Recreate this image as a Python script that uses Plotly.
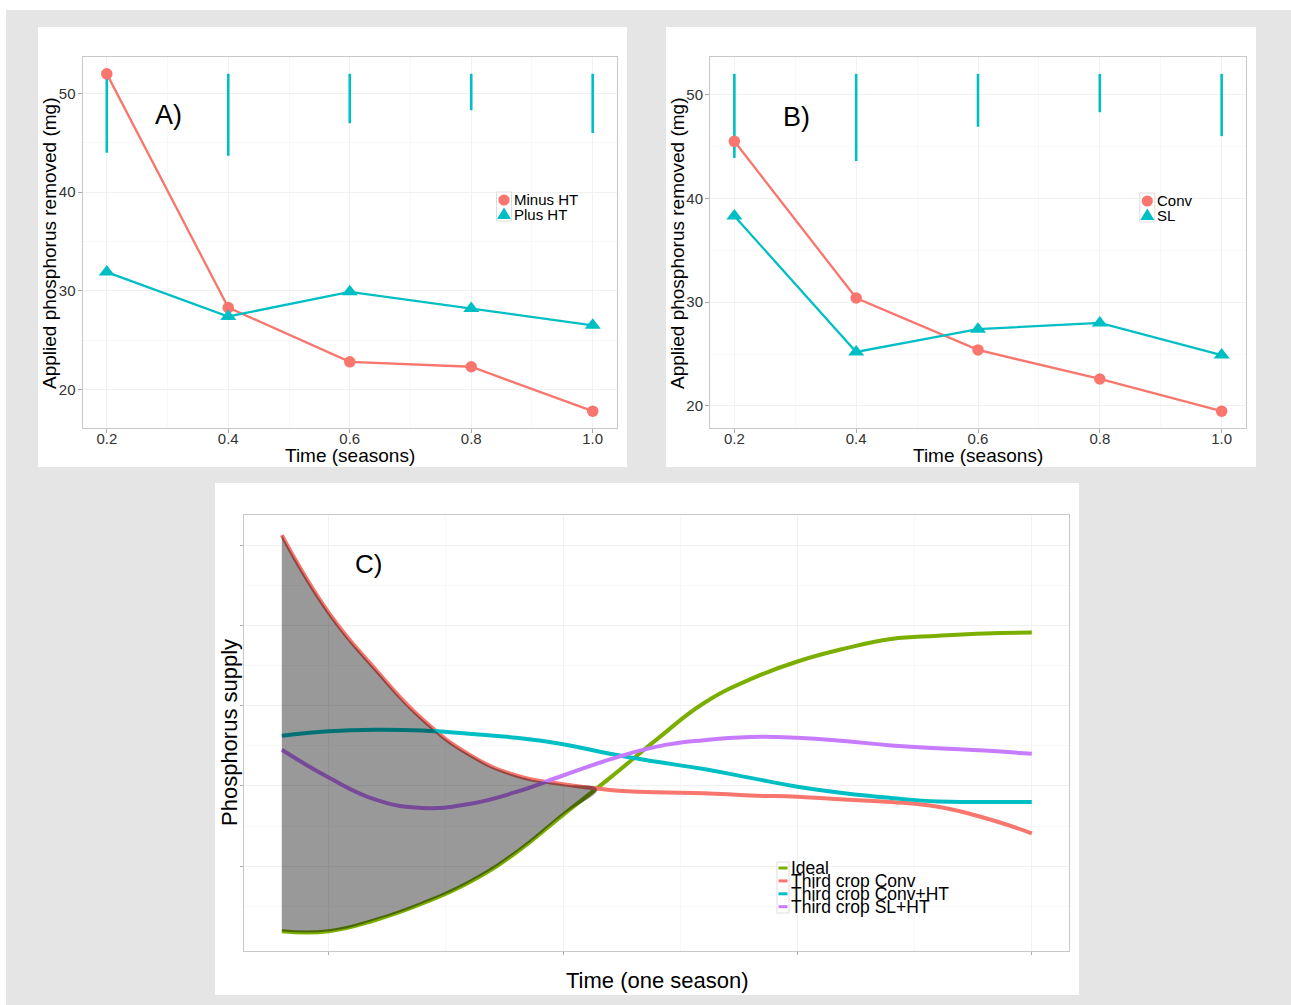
import plotly.graph_objects as go

W, H = 1291, 1005

# ---- Panels A and B: phosphorus removed over the season ----
seasons = [0.2, 0.4, 0.6, 0.8, 1.0]
season_labels = ["0.2", "0.4", "0.6", "0.8", "1.0"]
mg_ticks = [20, 30, 40, 50]

minus_ht = [52.0, 28.3, 22.8, 22.3, 17.8]
plus_ht = [31.9, 27.4, 29.9, 28.2, 26.5]
bar_top_a = [52.0, 52.0, 52.0, 52.0, 52.0]
bar_bottom_a = [44.0, 43.7, 47.0, 48.3, 46.0]

conv = [45.5, 30.4, 25.4, 22.6, 19.5]
sl = [38.3, 25.2, 27.4, 28.0, 24.9]
bar_top_b = [52.0, 52.0, 52.0, 52.0, 52.0]
bar_bottom_b = [43.9, 43.6, 46.9, 48.3, 46.0]

# ---- Panel C: phosphorus supply within one season ----
time_c = [0.20, 0.25, 0.30, 0.35, 0.40, 0.45, 0.50, 0.55, 0.60,
          0.65, 0.70, 0.75, 0.80, 0.85, 0.90, 0.95, 1.00]
ideal_y = [11.9, 11.9, 13.3, 15.35, 18.0, 21.7, 26.4, 31.0, 35.8,
           40.3, 43.3, 45.5, 47.1, 48.3, 48.7, 49.0, 49.1]
conv3_y = [61.25, 51.6, 44.5, 38.3, 33.9, 31.3, 30.2, 29.5, 29.2,
           29.1, 28.8, 28.65, 28.3, 28.0, 27.4, 26.0, 24.1]
convht_y = [36.25, 36.8, 37.0, 36.9, 36.5, 36.0, 35.2, 34.0, 33.0,
            32.1, 31.0, 29.9, 29.1, 28.5, 28.05, 28.0, 28.0]
slht_y = [34.5, 31.05, 28.3, 27.25, 27.75, 29.25, 31.3, 33.3, 34.9,
          35.7, 36.1, 36.0, 35.6, 35.05, 34.7, 34.4, 34.0]
# point where the Conv curve drops below the ideal curve
meet_x, meet_y = 0.536, 29.6

supply_ticks = [20, 30, 40, 50, 60]
supply_minor = [15, 25, 35, 45, 55]
time_ticks = [0.25, 0.5, 0.75, 1.0]
time_minor = [0.375, 0.625, 0.875]

# ggplot-like colours
RED, CYAN, GREEN, PURPLE = "#F8766D", "#00BFC4", "#7CAE00", "#C77CFF"
FONT = "Liberation Sans, Arial, sans-serif"
SMOOTH = 1.3


def px(x):
    return x / W


def py(y):
    return 1 - y / H


def expand(lo, hi, f=0.05):
    d = (hi - lo) * f
    return [lo - d, hi + d]


def segments(xs, tops, bottoms):
    sx, sy = [], []
    for x, t, b in zip(xs, tops, bottoms):
        sx += [x, x, None]
        sy += [t, b, None]
    return sx, sy


fig = go.Figure()

# Panel A
bx, by = segments(seasons, bar_top_a, bar_bottom_a)
fig.add_trace(go.Scatter(x=bx, y=by, mode="lines", line=dict(color=CYAN, width=2.6),
                         xaxis="x", yaxis="y", showlegend=False, hoverinfo="skip"))
fig.add_trace(go.Scatter(x=seasons, y=minus_ht, mode="lines+markers", name="Minus HT",
                         line=dict(color=RED, width=2.3),
                         marker=dict(symbol="circle", size=11.5, color=RED),
                         xaxis="x", yaxis="y", showlegend=False))
fig.add_trace(go.Scatter(x=seasons, y=plus_ht, mode="lines+markers", name="Plus HT",
                         line=dict(color=CYAN, width=2.3),
                         marker=dict(symbol="triangle-up", size=14, color=CYAN),
                         xaxis="x", yaxis="y", showlegend=False))

# Panel B
bx, by = segments(seasons, bar_top_b, bar_bottom_b)
fig.add_trace(go.Scatter(x=bx, y=by, mode="lines", line=dict(color=CYAN, width=2.6),
                         xaxis="x2", yaxis="y2", showlegend=False, hoverinfo="skip"))
fig.add_trace(go.Scatter(x=seasons, y=conv, mode="lines+markers", name="Conv",
                         line=dict(color=RED, width=2.3),
                         marker=dict(symbol="circle", size=11.5, color=RED),
                         xaxis="x2", yaxis="y2", showlegend=False))
fig.add_trace(go.Scatter(x=seasons, y=sl, mode="lines+markers", name="SL",
                         line=dict(color=CYAN, width=2.3),
                         marker=dict(symbol="triangle-up", size=14, color=CYAN),
                         xaxis="x2", yaxis="y2", showlegend=False))

# Panel C curves
for name, ys, col in [("Ideal", ideal_y, GREEN),
                      ("Third crop Conv", conv3_y, RED),
                      ("Third crop Conv+HT", convht_y, CYAN),
                      ("Third crop SL+HT", slht_y, PURPLE)]:
    fig.add_trace(go.Scatter(x=time_c, y=ys, mode="lines", name=name,
                             line=dict(color=col, width=4, shape="spline", smoothing=SMOOTH),
                             xaxis="x3", yaxis="y3", showlegend=False))

# shaded gap between the Conv curve and the ideal curve, up to where they meet
before = [i for i, t in enumerate(time_c) if t < meet_x]
gap_x = [time_c[i] for i in before] + [meet_x] + [time_c[i] for i in reversed(before)]
gap_y = [conv3_y[i] for i in before] + [meet_y] + [ideal_y[i] for i in reversed(before)]
fig.add_trace(go.Scatter(x=gap_x, y=gap_y, mode="lines", fill="toself",
                         fillcolor="rgba(0,0,0,0.4)",
                         line=dict(width=0, shape="spline", smoothing=SMOOTH),
                         xaxis="x3", yaxis="y3", showlegend=False, hoverinfo="skip"))

# ---- axes ----
grid = "#f1f1f1"
mgrid = "#f8f8f8"
border = "#c8c8c8"
tickfont = dict(family=FONT, size=15, color="#333333")


def ab_axes(xdom, ydom, yrange):
    xa = dict(domain=xdom, range=[0.16, 1.04], tickvals=seasons, ticktext=season_labels,
              showline=True, mirror=True, linecolor=border, linewidth=1,
              gridcolor=grid, zeroline=False, ticks="outside", ticklen=4,
              tickcolor="#aaaaaa", tickfont=tickfont, ticklabelstandoff=-7,
              minor=dict(tickvals=[0.3, 0.5, 0.7, 0.9], showgrid=True, gridcolor=mgrid))
    ya = dict(domain=ydom, range=yrange, tickvals=mg_ticks,
              showline=True, mirror=True, linecolor=border, linewidth=1,
              gridcolor=grid, zeroline=False, ticks="outside", ticklen=4,
              tickcolor="#aaaaaa", tickfont=tickfont, ticklabelstandoff=-1,
              minor=dict(tickvals=[15, 25, 35, 45, 55], showgrid=True, gridcolor=mgrid))
    return xa, ya


ydom_ab = [py(428), py(57)]
xa1, ya1 = ab_axes([px(82.5), px(617)], ydom_ab,
                   expand(min(minus_ht + plus_ht + bar_bottom_a), max(minus_ht + plus_ht + bar_top_a)))
xa2, ya2 = ab_axes([px(710), px(1246)], ydom_ab,
                   expand(min(conv + sl + bar_bottom_b), max(conv + sl + bar_top_b)))
ya2["anchor"] = "x2"
xa2["anchor"] = "y2"

all_c = ideal_y + conv3_y + convht_y + slht_y
xa3 = dict(domain=[px(244.3), px(1069.3)], range=expand(min(time_c), max(time_c)), anchor="y3",
           tickvals=time_ticks, showticklabels=False,
           showline=True, mirror=True, linecolor=border, linewidth=1,
           gridcolor=grid, zeroline=False, ticks="outside", ticklen=3, tickcolor="#aaaaaa",
           minor=dict(tickvals=time_minor, showgrid=True, gridcolor=mgrid))
ya3 = dict(domain=[py(951), py(515.3)], range=expand(min(all_c), max(all_c)), anchor="x3",
           tickvals=supply_ticks, showticklabels=False,
           showline=True, mirror=True, linecolor=border, linewidth=1,
           gridcolor=grid, zeroline=False, ticks="outside", ticklen=3, tickcolor="#aaaaaa",
           minor=dict(tickvals=supply_minor, showgrid=True, gridcolor=mgrid))

# ---- background and panel cards ----
shapes = [
    dict(type="rect", xref="paper", yref="paper", x0=px(6), x1=px(1291), y0=py(1005), y1=py(10),
         fillcolor="#e5e5e5", line=dict(width=0), layer="below"),
]
for x0, y0, x1, y1 in [(38, 27, 627, 467), (666, 27, 1256, 467), (215, 483, 1079, 995)]:
    shapes.append(dict(type="rect", xref="paper", yref="paper", x0=px(x0), x1=px(x1),
                       y0=py(y1), y1=py(y0), fillcolor="white", line=dict(width=0),
                       layer="below"))

annotations = []


def text(x, y, s, size, angle=0, anchor="center"):
    annotations.append(dict(xref="paper", yref="paper", x=px(x), y=py(y), text=s,
                            showarrow=False, textangle=angle, xanchor=anchor,
                            yanchor="middle", borderpad=0,
                            font=dict(family=FONT, size=size, color="black")))


# panel letters
text(168, 115, "A)", 27)
text(796, 117, "B)", 27)
text(368, 564, "C)", 26)

# axis titles
text(50, 243, "Applied phosphorus removed (mg)", 19, -90)
text(350, 455, "Time (seasons)", 19)
text(678, 243, "Applied phosphorus removed (mg)", 19, -90)
text(978, 455, "Time (seasons)", 19)
text(229, 733, "Phosphorus supply", 22, -90)
text(657, 980, "Time (one season)", 22)


# point legends for A and B
def point_legend(cx, top, labels):
    shapes.append(dict(type="rect", xref="paper", yref="paper",
                       x0=px(cx - 7.5), x1=px(cx + 7.5), y0=py(top + 29), y1=py(top),
                       fillcolor="white", line=dict(color="#dddddd", width=1)))
    yc, yt = top + 8, top + 22
    r = 5.6
    shapes.append(dict(type="circle", xref="paper", yref="paper",
                       x0=px(cx - r), x1=px(cx + r), y0=py(yc + r), y1=py(yc - r),
                       fillcolor=RED, line=dict(width=0)))
    path = "M {:.5f},{:.5f} L {:.5f},{:.5f} L {:.5f},{:.5f} Z".format(
        px(cx - 7), py(yt + 5), px(cx + 7), py(yt + 5), px(cx), py(yt - 6.5))
    shapes.append(dict(type="path", xref="paper", yref="paper", path=path,
                       fillcolor=CYAN, line=dict(width=0)))
    text(cx + 9, yc, labels[0], 15, anchor="left")
    text(cx + 9, yt, labels[1], 15, anchor="left")


point_legend(504, 192, ["Minus HT", "Plus HT"])
point_legend(1147.3, 193, ["Conv", "SL"])

# line legend for C (rows packed tightly, as in the original figure)
shapes.append(dict(type="rect", xref="paper", yref="paper", x0=px(777), x1=px(789),
                   y0=py(913), y1=py(862), fillcolor="white",
                   line=dict(color="#dddddd", width=1)))
for i, (lab, col) in enumerate([("Ideal", GREEN), ("Third crop Conv", RED),
                                ("Third crop Conv+HT", CYAN), ("Third crop SL+HT", PURPLE)]):
    yk = 868 + i * 12.9
    shapes.append(dict(type="line", xref="paper", yref="paper", x0=px(778.5), x1=px(787.5),
                       y0=py(yk), y1=py(yk), line=dict(color=col, width=3)))
    text(789.5, yk, lab, 17.5, anchor="left")

fig.update_layout(
    width=W, height=H, autosize=False,
    margin=dict(l=0, r=0, t=0, b=0, pad=0),
    paper_bgcolor="white", plot_bgcolor="white",
    xaxis=xa1, yaxis=ya1, xaxis2=xa2, yaxis2=ya2, xaxis3=xa3, yaxis3=ya3,
    shapes=shapes, annotations=annotations, showlegend=False,
    font=dict(family=FONT),
)

fig.write_html("out.html", config={"displayModeBar": False})
